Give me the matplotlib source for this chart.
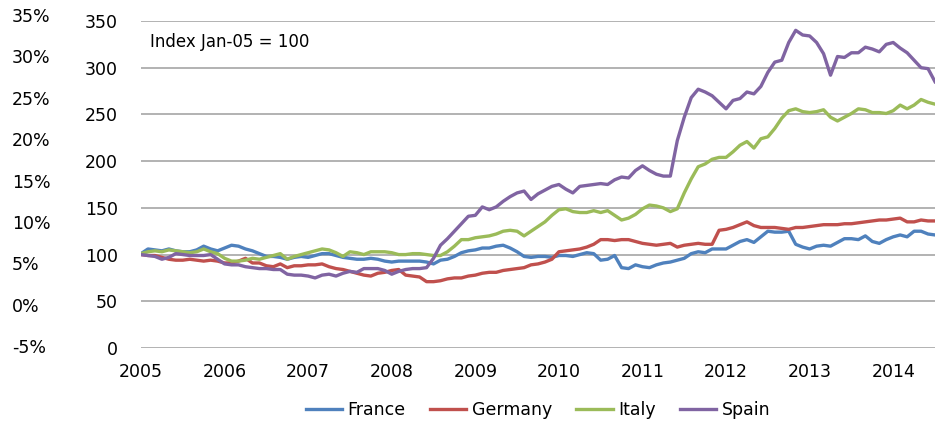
import matplotlib
matplotlib.use("Agg")
from matplotlib import pyplot as plt
import numpy as np

# monthly index, Jan 2005 = 100, Jan 2005 .. Jul 2014
years = [str(y) for y in range(2005, 2015)]

france = [101, 106, 105, 104, 106, 104, 103, 103, 105, 109, 106, 104,
          107, 110, 109, 106, 104, 101, 98, 98, 97, 95, 97, 98,
          97, 99, 101, 101, 99, 97, 96, 95, 95, 96, 95, 93,
          92, 93, 93, 93, 93, 92, 90, 94, 95, 98, 102, 104,
          105, 107, 107, 109, 110, 107, 103, 98, 97, 98, 98, 97,
          99, 99, 98, 100, 102, 101, 94, 95, 99, 86, 85, 89,
          87, 86, 89, 91, 92, 94, 96, 101, 103, 102, 106, 106,
          106, 110, 114, 116, 113, 119, 125, 124, 124, 125, 111, 108,
          106, 109, 110, 109, 113, 117, 117, 116, 120, 114, 112, 116,
          119, 121, 119, 125, 125, 122, 121]

germany = [100, 99, 99, 97, 95, 94, 94, 95, 94, 93, 94, 93,
           91, 91, 93, 96, 91, 91, 88, 87, 90, 86, 88, 88,
           89, 89, 90, 87, 85, 84, 82, 80, 78, 77, 80, 81,
           83, 84, 78, 77, 76, 71, 71, 72, 74, 75, 75, 77,
           78, 80, 81, 81, 83, 84, 85, 86, 89, 90, 92, 95,
           103, 104, 105, 106, 108, 111, 116, 116, 115, 116, 116, 114,
           112, 111, 110, 111, 112, 108, 110, 111, 112, 111, 111, 126,
           127, 129, 132, 135, 131, 129, 129, 129, 128, 127, 129, 129,
           130, 131, 132, 132, 132, 133, 133, 134, 135, 136, 137, 137,
           138, 139, 135, 135, 137, 136, 136]

italy = [101, 103, 104, 103, 105, 104, 103, 102, 103, 106, 103, 101,
         96, 93, 93, 94, 96, 95, 97, 99, 101, 95, 98, 100,
         102, 104, 106, 105, 102, 98, 103, 102, 100, 103, 103, 103,
         102, 100, 100, 101, 101, 100, 99, 99, 103, 109, 116, 116,
         118, 119, 120, 122, 125, 126, 125, 120, 125, 130, 135, 142,
         148, 149, 146, 145, 145, 147, 145, 147, 142, 137, 139, 143,
         149, 153, 152, 150, 146, 149, 166, 181, 194, 197, 202, 204,
         204, 210, 217, 221, 214, 224, 226, 235, 246, 254, 256, 253,
         252, 253, 255, 247, 243, 247, 251, 256, 255, 252, 252, 251,
         254, 260, 256, 260, 266, 263, 261]

spain = [100, 99, 98, 95, 97, 101, 100, 99, 99, 99, 100, 95,
         90, 89, 89, 87, 86, 85, 85, 84, 84, 79, 78, 78,
         77, 75, 78, 79, 77, 80, 82, 81, 85, 85, 85, 83,
         79, 82, 84, 85, 85, 86, 96, 110, 117, 125, 133, 141,
         142, 151, 148, 151, 157, 162, 166, 168, 159, 165, 169, 173,
         175, 170, 166, 173, 174, 175, 176, 175, 180, 183, 182, 190,
         195, 190, 186, 184, 184, 222, 247, 268, 277, 274, 270, 263,
         256, 265, 267, 274, 272, 280, 295, 306, 308, 327, 340, 335,
         334, 327, 315, 292, 312, 311, 316, 316, 322, 320, 317, 325,
         327, 321, 316, 308, 300, 299, 285]

names = ["France", "Germany", "Italy", "Spain"]
colors = ["#4F81BD", "#C0504D", "#9BBB59", "#8064A2"]
series = [france, germany, italy, spain]

index_ticks = np.arange(0, 351, 50)
pct_ticks = np.arange(-5, 36, 5)

plt.rcParams["font.family"] = ["DejaVu Sans"]
fs = 12.5

fig = plt.figure(figsize=(9.44, 4.22), dpi=100)

# percent scale on the far left: its own axes, slightly taller than the plot
ax2 = fig.add_axes([141 / 944, 76 / 422, 794 / 944, 331 / 422])
ax2.set_yticks(pct_ticks)
ax2.set_yticklabels([f"{v}%" for v in pct_ticks])
ax2.set_ylim(-5, 35)
ax2.set_xticks([])
ax2.patch.set_visible(False)
for s in ax2.spines.values():
    s.set_visible(False)
ax2.tick_params(axis="y", length=0, pad=92.9, labelsize=fs)
for t in ax2.get_yticklabels():
    t.set_horizontalalignment("left")

ax = fig.add_axes([141 / 944, 74 / 422, 794 / 944, 327 / 422])
ax.patch.set_visible(False)

months = np.arange(len(spain))
for name, col, vals in zip(names, colors, series):
    ax.plot(months, vals, color=col, lw=2.4, label=name, solid_joinstyle="round")

ax.set_xticks(np.arange(0, 109, 12))
ax.set_xticklabels(years)
ax.set_yticks(index_ticks)
ax.set_xlim(0, 114)
ax.set_ylim(0, 350)
ax.tick_params(axis="x", length=0, pad=11, labelsize=fs)
ax.tick_params(axis="y", length=0, pad=16.5, labelsize=fs)
ax.yaxis.grid(True, color="#a6a6a6", lw=1.2)
ax.set_axisbelow(True)
for s in ax.spines.values():
    s.set_visible(False)

ax.text(0.0113, 0.936, "Index Jan-05 = 100", transform=ax.transAxes,
        fontsize=12, va="center", ha="left")

ax.legend(loc="center", bbox_to_anchor=(0.5, -0.19), ncol=4, frameon=False,
          fontsize=fs, handlelength=2.1, handletextpad=0.3, columnspacing=1.4)

fig.savefig("out.png", dpi=100)
